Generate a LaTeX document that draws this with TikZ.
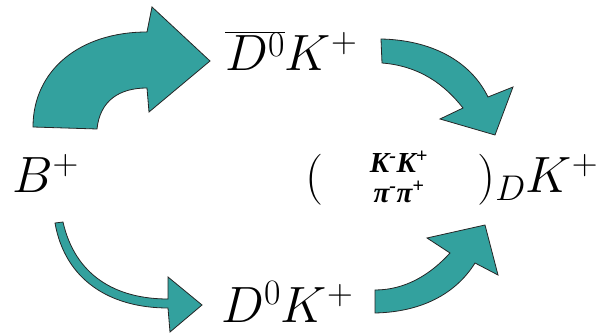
\documentclass[tikz,border=0pt]{standalone}
\usepackage{fix-cm}
\usepackage{fontspec}
\newfontfamily\tnr{Liberation Serif}
\definecolor{teal}{RGB}{51,161,158}
\tikzset{
  bigarrow/.style={fill=teal, draw=black!85, line width=0.8pt, line join=miter},
  label/.style={inner sep=0pt, anchor=base west, font=\fontsize{51}{60}\selectfont},
  mesons/.style={inner sep=0pt, anchor=base, font=\fontsize{29}{32}\selectfont\tnr\bfseries\itshape}
}
\begin{document}
\begin{tikzpicture}[x=1pt,y=-1pt]
\useasboundingbox (0,0) rectangle (611,336);
% arrows
\path[bigarrow] (33,127) .. controls (33,70) and (80,32) .. (147,32) -- (152,7) -- (210,61) -- (149,112) -- (147,88) .. controls (120,88) and (100,100) .. (97,129) -- cycle;
\path[bigarrow] (381,39) .. controls (430,40) and (470,60) .. (488,97) -- (513,87) -- (495,135) -- (440,119) -- (463,108) .. controls (445,85) and (420,66) .. (382,63) -- cycle;
\path[bigarrow] (55,223) .. controls (65,280) and (110,308) .. (168,308) -- (170,332) -- (202,305) -- (168,277) -- (168,299) .. controls (115,299) and (75,275) .. (63,222) -- cycle;
\path[bigarrow] (375,313) .. controls (420,312) and (455,295) .. (475,263) -- (498,275) -- (485,225) -- (427,238) -- (450,253) .. controls (430,275) and (405,290) .. (375,290) -- cycle;
% texts
\node[label] (b) at (12,193) {$B^+$};
\node[label] (dbar) at (225,71) {$\overline{D^0}K^+$};
\node[label] (d) at (221,323) {$D^0K^+$};
\node[label] (lp) at (305,193) {$($};
\node[mesons] (kk) at (399,173) {K\textsuperscript{-}K\textsuperscript{+}};
\node[mesons] (pp) at (399,203) {π\textsuperscript{-}π\textsuperscript{+}};
\node[label] (rp) at (477,193) {$)_DK^+$};
\end{tikzpicture}
\end{document}
